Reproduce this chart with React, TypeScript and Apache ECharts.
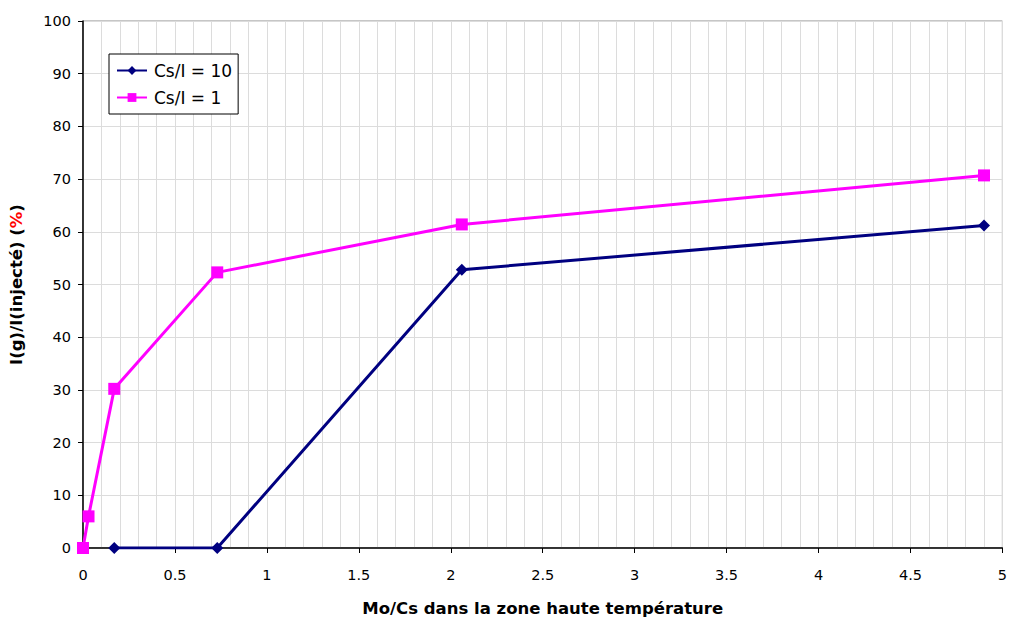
import React, { useEffect, useRef } from "react";
import * as echarts from "echarts";

const seriesNames = ["Cs/I = 10", "Cs/I = 1"];
const xCsI10 = [0.17, 0.73, 2.06, 4.9];
const yCsI10 = [0, 0, 52.8, 61.2];
const xCsI1 = [0, 0.03, 0.17, 0.73, 2.06, 4.9];
const yCsI1 = [0, 6, 30.2, 52.3, 61.4, 70.7];
const xTitle = "Mo/Cs dans la zone haute température";
const yTitleMain = "I(g)/I(injecté) ";

const FONT = "DejaVu Sans";

export default function App() {
  const ref = useRef<HTMLDivElement>(null);
  useEffect(() => {
    if (!ref.current) return;
    const chart = echarts.init(ref.current, undefined, { renderer: "svg" });
    chart.setOption({
      animation: false,
      backgroundColor: "#ffffff",
      textStyle: { fontFamily: FONT },
      grid: {
        left: 82,
        right: 6,
        top: 21,
        bottom: 71,
        show: true,
        borderColor: "#8c8c8c",
        borderWidth: 1,
      },
      legend: {
        orient: "vertical",
        left: 109,
        top: 54,
        backgroundColor: "#ffffff",
        borderColor: "#000000",
        borderWidth: 1,
        borderRadius: 0,
        padding: [8, 6, 8, 7],
        itemGap: 10,
        itemWidth: 30,
        itemHeight: 11,
        textStyle: { fontFamily: FONT, fontSize: 17, color: "#000", padding: [0, 0, 0, 2] },
        data: seriesNames,
      },
      xAxis: {
        type: "value",
        min: 0,
        max: 5,
        interval: 0.5,
        name: xTitle,
        nameLocation: "middle",
        nameGap: 52,
        nameTextStyle: { fontFamily: FONT, fontSize: 16.5, fontWeight: "bold", color: "#000" },
        axisLine: { show: true, lineStyle: { color: "#000", width: 1.5 } },
        axisTick: { show: true, length: 5, lineStyle: { color: "#000" } },
        axisLabel: { fontFamily: FONT, fontSize: 14.5, color: "#000", margin: 19 },
        splitLine: { show: true, lineStyle: { color: "#dcdcdc", width: 1 } },
        minorTick: { show: false, splitNumber: 5 },
        minorSplitLine: { show: true, lineStyle: { color: "#dcdcdc", width: 1 } },
      },
      yAxis: {
        type: "value",
        min: 0,
        max: 100,
        interval: 10,
        name: yTitleMain + "({r|%})",
        nameLocation: "middle",
        nameGap: 58,
        nameTextStyle: {
          fontFamily: FONT,
          fontSize: 16.5,
          fontWeight: "bold",
          color: "#000",
          rich: { r: { color: "#ff0000", fontFamily: FONT, fontSize: 16.5, fontWeight: "bold" } },
        },
        axisLine: { show: true, lineStyle: { color: "#000", width: 1.5 } },
        axisTick: { show: true, length: 5, lineStyle: { color: "#000" } },
        axisLabel: { fontFamily: FONT, fontSize: 14.5, color: "#000", margin: 12 },
        splitLine: { show: true, lineStyle: { color: "#dcdcdc", width: 1 } },
      },
      series: [
        {
          name: seriesNames[0],
          type: "line",
          data: xCsI10.map((x, i) => [x, yCsI10[i]]),
          symbol: "diamond",
          symbolSize: 12,
          color: "#000080",
          lineStyle: { color: "#000080", width: 3 },
          itemStyle: { color: "#000080" },
          z: 3,
        },
        {
          name: seriesNames[1],
          type: "line",
          data: xCsI1.map((x, i) => [x, yCsI1[i]]),
          symbol: "rect",
          symbolSize: 12,
          color: "#ff00ff",
          lineStyle: { color: "#ff00ff", width: 3 },
          itemStyle: { color: "#ff00ff" },
          z: 2,
        },
      ],
    });
    return () => chart.dispose();
  }, []);
  return (
    <div
      ref={ref}
      style={{ position: "fixed", left: 0, top: 0, width: 1010, height: 622 }}
    />
  );
}
